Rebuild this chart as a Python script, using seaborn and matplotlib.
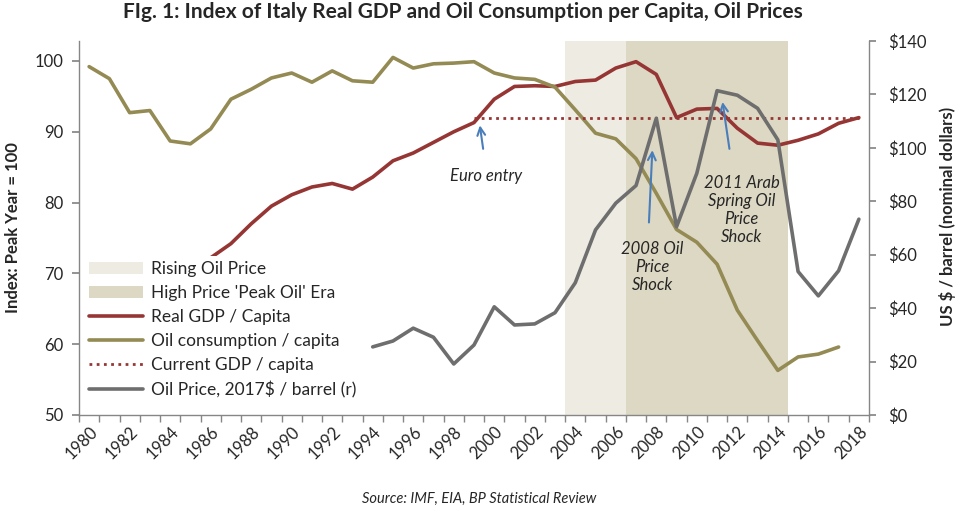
"""Fig. 1 — Italy real GDP & oil consumption per capita vs oil prices."""
import matplotlib
matplotlib.use("Agg")

import matplotlib.pyplot as plt
from matplotlib.lines import Line2D
from matplotlib.patches import Patch
from matplotlib.ticker import FuncFormatter
import numpy as np
import seaborn as sns

sns.set_theme(style="white")
plt.rcParams["font.family"] = ["Lato", "DejaVu Sans"]

YEARS = np.arange(1980, 2019)

# index, peak year = 100 (1980-85 GDP sits behind the legend, estimated)
GDP = [66.0, 66.4, 66.6, 67.4, 68.9, 70.3, 72.2, 74.2, 77.0, 79.5,
       81.1, 82.2, 82.7, 81.9, 83.6, 85.9, 87.0, 88.5, 90.0, 91.3,
       94.6, 96.4, 96.5, 96.4, 97.1, 97.3, 99.0, 99.9, 98.1, 92.0,
       93.2, 93.3, 90.5, 88.4, 88.1, 88.8, 89.7, 91.2, 92.0]
OIL_CONS = [99.2, 97.5, 92.7, 93.0, 88.7, 88.3, 90.4, 94.6, 96.0, 97.6,
            98.3, 97.0, 98.6, 97.2, 97.0, 100.5, 99.0, 99.6, 99.7, 99.9,
            98.3, 97.6, 97.4, 96.3, 93.1, 89.8, 89.0, 86.2, 81.3, 76.2,
            74.4, 71.3, 64.8, 60.5, 56.3, 58.2, 58.6, 59.6, np.nan]
CURRENT_GDP = [np.nan] * 19 + [92.0] * 20
# $ / barrel, right axis
OIL_PRICE = [np.nan] * 14 + [25.5, 27.7, 32.5, 29.1, 19.1, 26.2,
             40.5, 33.7, 34.1, 38.3, 49.5, 69.3, 79.3, 85.9, 111.1, 70.5,
             90.5, 121.4, 119.7, 114.8, 103.0, 53.7, 44.6, 54.0, 73.3]

RISING_ERA = (2003.5, 2006.5)
PEAK_ERA = (2006.5, 2014.5)

RED = "#963634"
OLIVE = "#948A54"
GREY = "#6E6E6E"
RISING = "#EEEBE3"
HIGH = "#DDD8C3"
BLUE = "#4A7EBB"
AXIS = "#868686"
DOTS = (0, (1, 1.6))

fig = plt.figure(figsize=(9.6, 5.08), dpi=100)
ax = fig.add_axes([79 / 960, 93 / 508, 790 / 960, 374 / 508])
ax2 = ax.twinx()

ax.axvspan(*RISING_ERA, color=RISING, lw=0, zorder=0)
ax.axvspan(*PEAK_ERA, color=HIGH, lw=0, zorder=0)

sns.lineplot(x=YEARS, y=GDP, color=RED, lw=2.6, ax=ax)
sns.lineplot(x=YEARS, y=OIL_CONS, color=OLIVE, lw=2.6, ax=ax)
ax.plot(YEARS, CURRENT_GDP, color=RED, lw=2, ls=DOTS)
sns.lineplot(x=YEARS, y=OIL_PRICE, color=GREY, lw=2.6, ax=ax2)

ax.set_xlim(1979.5, 2018.5)
ax.set_ylim(50, 102.82)
ax2.set_ylim(0, 140)

# axes cosmetics
for a in (ax, ax2):
    a.spines["top"].set_visible(False)
    for side in ("left", "right", "bottom"):
        a.spines[side].set_color(AXIS)
        a.spines[side].set_linewidth(1.0)
ax.spines["right"].set_visible(False)
ax2.spines["left"].set_visible(False)
ax2.spines["bottom"].set_visible(False)

ax.set_xticks(np.arange(1980, 2019, 2))
ax.set_xticklabels([str(y) for y in range(1980, 2019, 2)], rotation=45,
                   ha="right", rotation_mode="anchor", fontsize=12)
ax.set_xticks(np.arange(1979.5, 2019, 1), minor=True)
ax.tick_params(axis="x", which="major", length=0, pad=6)
ax.tick_params(axis="x", which="minor", length=5, color=AXIS, direction="out",
               bottom=True)
ax.set_yticks(np.arange(50, 101, 10))
ax.tick_params(axis="y", length=5, color=AXIS, direction="out", left=True,
               labelsize=12, pad=6)
ax2.set_yticks(np.arange(0, 141, 20))
ax2.yaxis.set_major_formatter(FuncFormatter(lambda v, p: f"${v:.0f}"))
ax2.tick_params(axis="y", length=5, color=AXIS, direction="out", right=True,
                labelsize=12, pad=9)
ax.grid(False)
ax2.grid(False)

ax.set_xlabel("")
ax.set_ylabel("Index: Peak Year = 100", fontsize=12, fontweight="bold")
ax.yaxis.set_label_coords(-0.074, 0.5)
ax2.set_ylabel("US $ / barrel (nominal dollars)", fontsize=12,
               fontweight="bold", rotation=90)
ax2.yaxis.set_label_coords(1.088, 0.53)

# annotations (left-axis data coords)
arrow = dict(arrowstyle="->", color=BLUE, lw=1.5, mutation_scale=14)
notes = [("Euro entry", (1999.27, 91.3), (1999.47, 87.2), (1999.6, 83.8)),
         ("2008 Oil\nPrice\nShock", (2007.81, 87.8), (2007.63, 76.8), (2007.82, 70.9)),
         ("2011 Arab\nSpring Oil\nPrice\nShock", (2011.25, 94.6), (2011.63, 87.2),
          (2012.2, 79.0))]
for txt, head, tail, pos in notes:
    ax2.annotate("", xy=head, xytext=tail, xycoords=ax.transData,
                 textcoords=ax.transData, arrowprops=arrow)
    ax2.text(*pos, txt, transform=ax.transData, ha="center", va="center",
             fontsize=12, style="italic", linespacing=1.15)

handles = [Patch(facecolor=RISING, edgecolor="none"),
           Patch(facecolor=HIGH, edgecolor="none"),
           Line2D([], [], color=RED, lw=2.6),
           Line2D([], [], color=OLIVE, lw=2.6),
           Line2D([], [], color=RED, lw=2, ls=DOTS),
           Line2D([], [], color=GREY, lw=2.6)]
labels = ["Rising Oil Price", "High Price 'Peak Oil' Era", "Real GDP / Capita",
          "Oil consumption / capita", "Current GDP / capita",
          "Oil Price, 2017$ / barrel (r)"]
leg = ax2.legend(handles, labels, loc="lower left",
                 bbox_to_anchor=(0.006, 0.03), borderaxespad=0,
                 fontsize=12.5, frameon=True, facecolor="white",
                 edgecolor="none", framealpha=1, fancybox=False,
                 handlelength=3.1, labelspacing=0.47, borderpad=0.3,
                 handletextpad=0.5)
leg.set_zorder(10)

fig.text(463 / 960, 1 - 12 / 508,
         "FIg. 1: Index of Italy Real GDP and Oil Consumption per Capita, Oil Prices",
         ha="center", va="center", fontsize=15, fontweight="bold")
fig.text(479 / 960, 1 - 499 / 508, "Source: IMF, EIA, BP Statistical Review",
         ha="center", va="center", fontsize=10.5, style="italic")

fig.savefig("out.png", dpi=100)
plt.close(fig)
